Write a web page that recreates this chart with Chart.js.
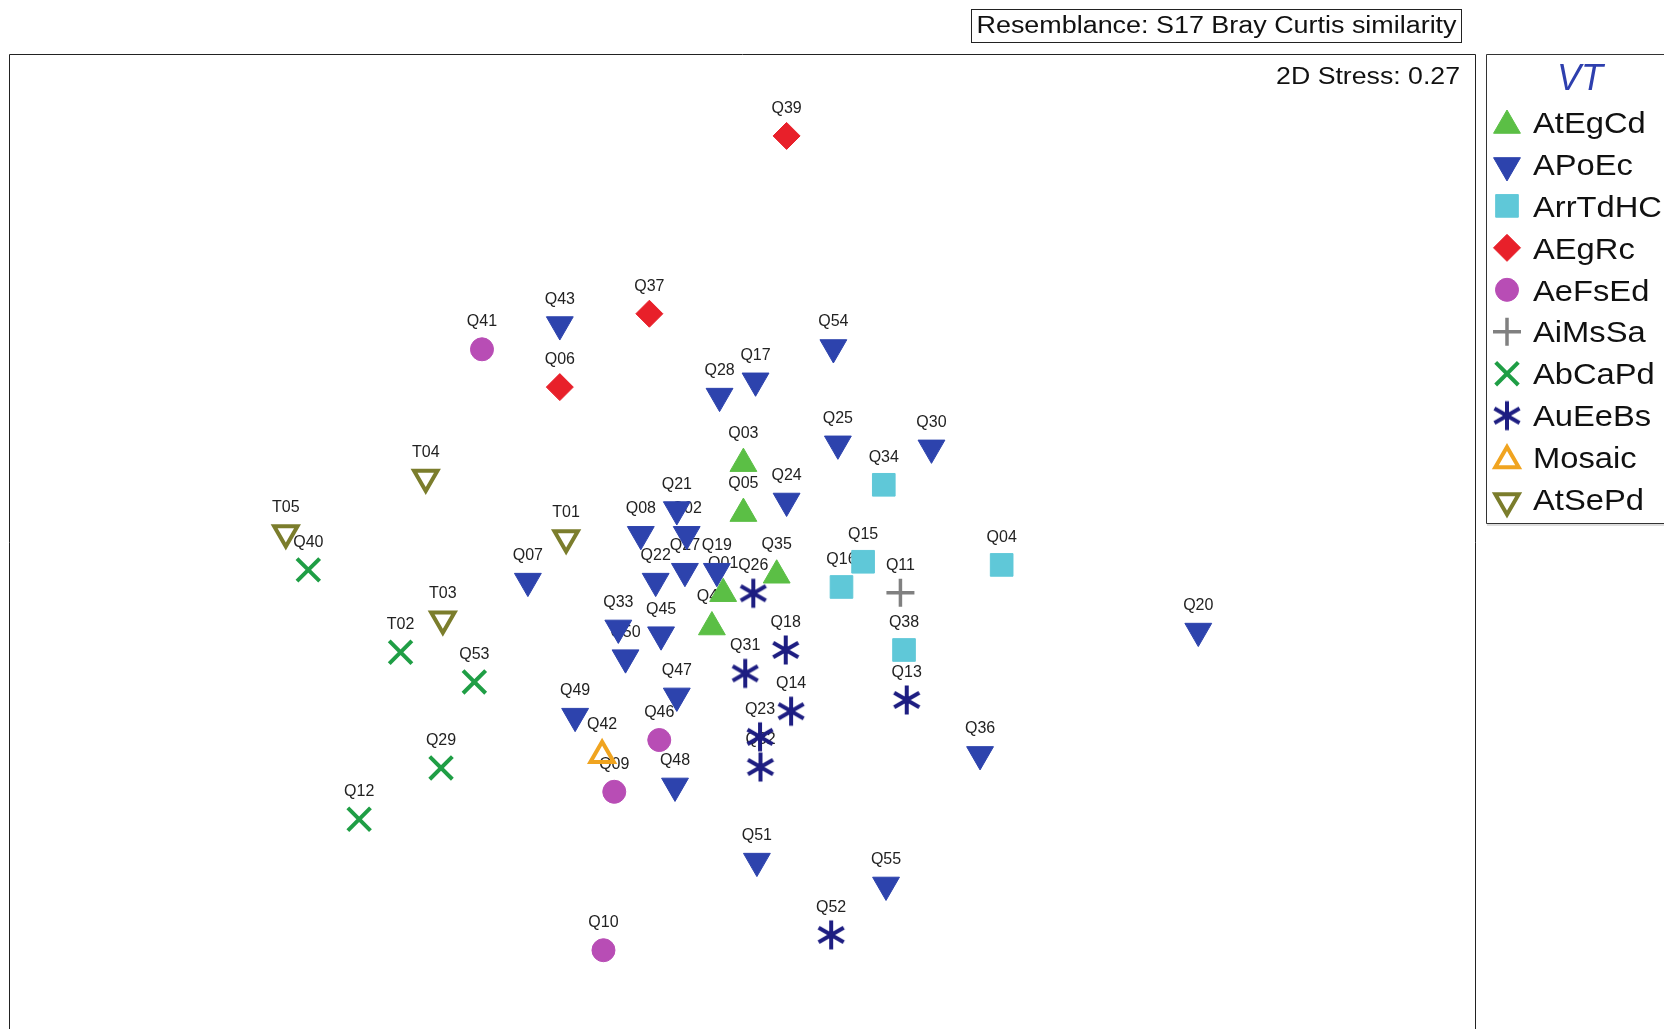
<!DOCTYPE html>
<html><head><meta charset="utf-8">
<script src="https://cdn.jsdelivr.net/npm/chart.js@4.4.1/dist/chart.umd.min.js"></script>
<style>html,body{margin:0;padding:0;background:#fff;overflow:hidden}canvas{display:block}</style>
</head><body>
<canvas id="c" width="1664" height="1029"></canvas>
<script>
// ---------------- DATA (NMDS coordinates) ----------------
const vtGroups = ['AtEgCd','APoEc','ArrTdHC','AEgRc','AeFsEd','AiMsSa','AbCaPd','AuEeBs','Mosaic','AtSePd'];
const atEgCd  = [['Q03',0.002,0.173],['Q05',0.002,0.062],['Q35',0.076,-0.075],['Q01',-0.043,-0.116],['Q44',-0.068,-0.190]];
const aPoEc   = [['Q43',-0.406,0.482],['Q54',0.202,0.431],['Q17',0.029,0.357],['Q28',-0.051,0.323],['Q25',0.212,0.217],
                 ['Q30',0.420,0.208],['Q24',0.098,0.090],['Q21',-0.146,0.071],['Q08',-0.226,0.016],['Q02',-0.124,0.016],
                 ['Q07',-0.477,-0.088],['Q22',-0.193,-0.088],['Q27',-0.128,-0.066],['Q19',-0.057,-0.066],['Q33',-0.276,-0.192],
                 ['Q45',-0.181,-0.207],['Q50',-0.260,-0.258],['Q47',-0.146,-0.343],['Q49',-0.372,-0.388],['Q48',-0.150,-0.543],
                 ['Q36',0.528,-0.473],['Q20',1.013,-0.199],['Q51',0.032,-0.710],['Q55',0.319,-0.763]];
const arrTdHC = [['Q34',0.314,0.126],['Q15',0.268,-0.045],['Q16',0.220,-0.101],['Q04',0.576,-0.052],['Q38',0.359,-0.241]];
const aEgRc   = [['Q39',0.098,0.901],['Q37',-0.207,0.506],['Q06',-0.406,0.343]];
const aeFsEd  = [['Q41',-0.579,0.427],['Q46',-0.185,-0.441],['Q09',-0.285,-0.556],['Q10',-0.309,-0.908]];
const aiMsSa  = [['Q11',0.351,-0.114]];
const abCaPd  = [['Q40',-0.965,-0.063],['T02',-0.760,-0.246],['Q53',-0.596,-0.312],['Q29',-0.670,-0.503],['Q12',-0.852,-0.617]];
const auEeBs  = [['Q26',0.024,-0.115],['Q18',0.096,-0.241],['Q31',0.006,-0.293],['Q14',0.108,-0.377],['Q13',0.365,-0.352],
                 ['Q23',0.039,-0.434],['Q32',0.040,-0.501],['Q52',0.197,-0.874]];
const mosaic  = [['Q42',-0.312,-0.475]];
const atSePd  = [['T04',-0.704,0.142],['T05',-1.015,0.019],['T01',-0.392,0.008],['T03',-0.666,-0.173]];
const groupData = [atEgCd,aPoEc,arrTdHC,aEgRc,aeFsEd,aiMsSa,abCaPd,auEeBs,mosaic,atSePd];
const xRange = [-1.628, 1.628];
const yRange = [-1.083, 1.083];
const stressText = '2D Stress: 0.27';
const resemblanceText = 'Resemblance: S17 Bray Curtis similarity';
const legendTitle = 'VT';

// ---------------- STYLES ----------------
const FONT = '"Liberation Sans", Arial, sans-serif';
function makeAsterisk(color, len, lw){
  const c = document.createElement('canvas');
  c.width = c.height = 34;
  const g = c.getContext('2d');
  g.strokeStyle = color; g.lineWidth = lw;
  const cx = 17, cy = 17, r = len/2;
  [90, 30, 150].forEach(a => {
    const t = a*Math.PI/180;
    g.beginPath();
    g.moveTo(cx - r*Math.cos(t), cy - r*Math.sin(t));
    g.lineTo(cx + r*Math.cos(t), cy + r*Math.sin(t));
    g.stroke();
  });
  return c;
}
const asterisk = makeAsterisk('#1e1e82', 29, 4);
const styles = [
  {pointStyle:'triangle', rotation:0,   radius:15.5, bg:'#5bbf45', border:'#5bbf45', bw:1, dy:3.5},
  {pointStyle:'triangle', rotation:180, radius:15.5, bg:'#2d43ad', border:'#2d43ad', bw:1, dy:1.5},
  {pointStyle:'rect',     rotation:0,   radius:16,   bg:'#5fc8d8', border:'#5fc8d8', bw:1, dy:0},
  {pointStyle:'rectRot',  rotation:0,   radius:13.5, bg:'#e8202a', border:'#e8202a', bw:1, dy:0},
  {pointStyle:'circle',   rotation:0,   radius:11.5, bg:'#b84db5', border:'#b84db5', bw:1, dy:0},
  {pointStyle:'cross',    rotation:0,   radius:14,   bg:'#808080', border:'#808080', bw:3.5, dy:0},
  {pointStyle:'crossRot', rotation:0,   radius:16,   bg:'#1f9e45', border:'#1f9e45', bw:4, dy:0},
  {pointStyle:asterisk,   rotation:0,   radius:15,   bg:'#1e1e82', border:'#1e1e82', bw:0, dy:0},
  {pointStyle:'triangle', rotation:0,   radius:13.5, bg:'rgba(0,0,0,0)', border:'#f0a420', bw:4, dy:3},
  {pointStyle:'triangle', rotation:180, radius:13.5, bg:'rgba(0,0,0,0)', border:'#7b7d2c', bw:4, dy:1.5}
];

const datasets = vtGroups.map((name, i) => ({
  label: name,
  data: groupData[i].map(d => ({x: d[1], y: d[2], id: d[0]})),
  pointStyle: styles[i].pointStyle,
  rotation: styles[i].rotation,
  pointRadius: styles[i].radius,
  pointHoverRadius: styles[i].radius,
  backgroundColor: styles[i].bg,
  borderColor: styles[i].border,
  borderWidth: styles[i].bw
}));

function sText(ctx, txt, x, y, font, stretch, align, color){
  ctx.save();
  ctx.font = font; ctx.fillStyle = color; ctx.textBaseline = 'alphabetic'; ctx.textAlign = 'left';
  const w = ctx.measureText(txt).width * stretch;
  const x0 = align === 'center' ? x - w/2 : (align === 'right' ? x - w : x);
  ctx.translate(x0, y); ctx.scale(stretch, 1); ctx.fillText(txt, 0, 0);
  ctx.restore();
}

function drawSymbol(ctx, st, x, y){
  ctx.save();
  ctx.fillStyle = st.bg; ctx.strokeStyle = st.border; ctx.lineWidth = st.bw;
  const opts = {pointStyle: st.pointStyle, rotation: st.rotation, radius: st.radius, borderWidth: st.bw};
  if (Chart.helpers && Chart.helpers.drawPoint) {
    Chart.helpers.drawPoint(ctx, opts, x, y);
  } else if (typeof st.pointStyle === 'object') {
    ctx.drawImage(st.pointStyle, x - 17, y - 17);
  }
  ctx.restore();
}

const decor = {
  id: 'decor',
  beforeDatasetsDraw(chart){
    const ctx = chart.ctx, a = chart.chartArea;
    ctx.save();
    ctx.strokeStyle = '#222'; ctx.lineWidth = 1;
    ctx.beginPath();
    ctx.moveTo(a.left - 0.5, a.bottom + 5);
    ctx.lineTo(a.left - 0.5, a.top + 0.5);
    ctx.lineTo(a.right + 0.5, a.top + 0.5);
    ctx.lineTo(a.right + 0.5, a.bottom + 5);
    ctx.stroke();
    ctx.restore();
    chart.data.datasets.forEach((ds, i) => {
      const meta = chart.getDatasetMeta(i);
      const off = styles[i].rotation === 180 ? 21 : (styles[i].pointStyle === 'triangle' ? 26 : 23);
      meta.data.forEach((el, j) => {
        sText(ctx, ds.data[j].id, el.x, el.y - off, '16px ' + FONT, 1, 'center', '#222');
      });
    });
    sText(ctx, stressText, a.right - 15, a.top + 30, '23px ' + FONT, 1.16, 'right', '#111');
  },
  afterDraw(chart){
    const ctx = chart.ctx, a = chart.chartArea;
    ctx.save();
    ctx.strokeStyle = '#222'; ctx.lineWidth = 1;
    ctx.strokeRect(971.5, 9.5, 490, 33);
    ctx.restore();
    sText(ctx, resemblanceText, 976.5, 32.5, '23px ' + FONT, 1.17, 'left', '#111');
    const lx = a.right + 11, ly = a.top, lb = 523.5;
    ctx.save();
    ctx.strokeStyle = '#333'; ctx.lineWidth = 1;
    ctx.beginPath();
    ctx.moveTo(1700, ly + 0.5); ctx.lineTo(lx + 0.5, ly + 0.5); ctx.lineTo(lx + 0.5, lb); ctx.lineTo(1700, lb);
    ctx.stroke();
    ctx.strokeStyle = '#bbb';
    ctx.beginPath(); ctx.moveTo(lx + 1, lb + 1.5); ctx.lineTo(1700, lb + 1.5); ctx.stroke();
    ctx.restore();
    ctx.save();
    ctx.font = 'italic 36px ' + FONT; ctx.fillStyle = '#2e3fae'; ctx.textAlign = 'center';
    ctx.fillText(legendTitle, 1580, 90);
    ctx.restore();
    chart.data.datasets.forEach((ds, i) => {
      const cy = 122 + i * 41.95;
      drawSymbol(ctx, styles[i], 1507, cy + styles[i].dy);
      sText(ctx, ds.label, 1533, cy + 10.7, '30px ' + FONT, 1.09, 'left', '#111');
    });
  }
};

new Chart(document.getElementById('c'), {
  type: 'scatter',
  data: {datasets},
  options: {
    responsive: false,
    animation: false,
    devicePixelRatio: 1,
    layout: {autoPadding: false, padding: {left: 10, top: 54, right: 189, bottom: 0}},
    scales: {
      x: {type: 'linear', min: xRange[0], max: xRange[1], display: false},
      y: {type: 'linear', min: yRange[0], max: yRange[1], display: false}
    },
    plugins: {legend: {display: false}, tooltip: {enabled: false}, title: {display: false}}
  },
  plugins: [decor]
});
</script>
</body></html>
